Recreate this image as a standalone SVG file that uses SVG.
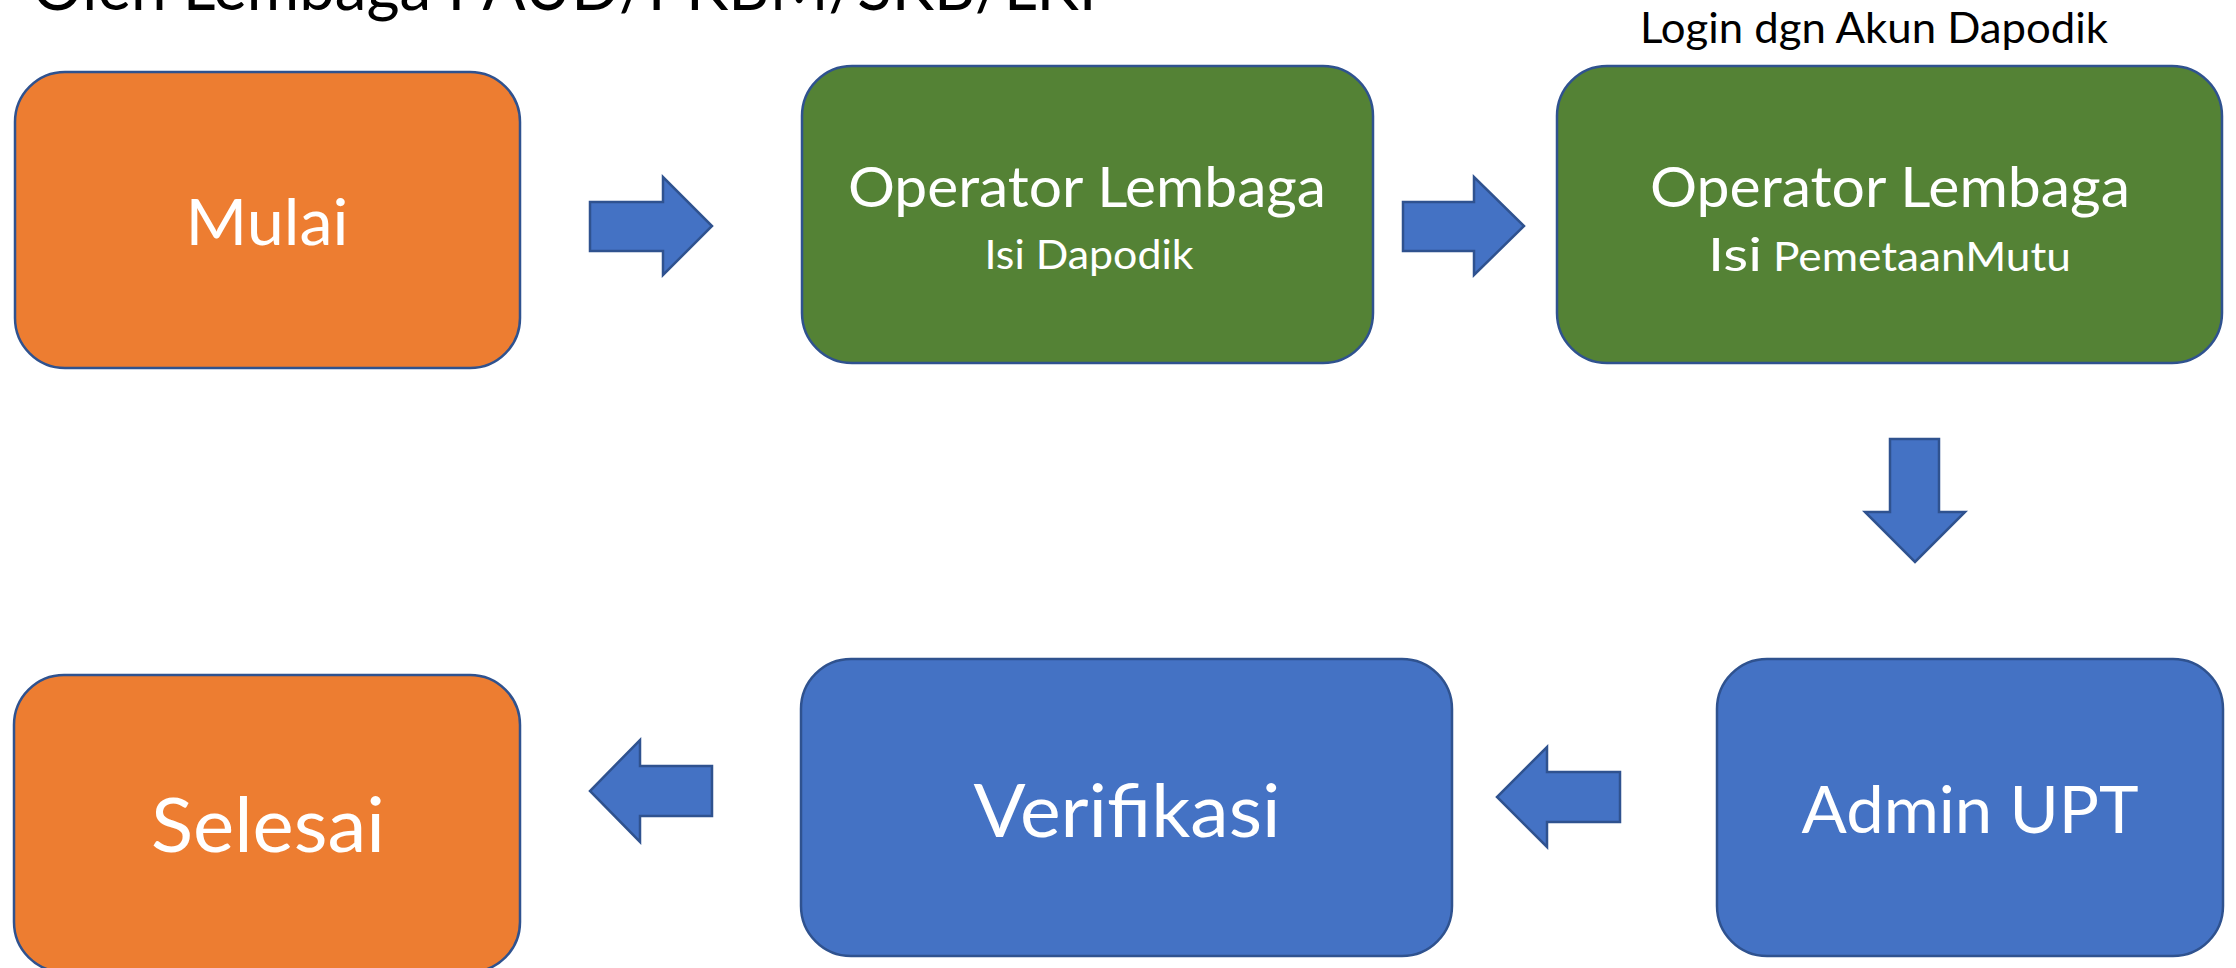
<svg xmlns="http://www.w3.org/2000/svg" width="2236" height="968" viewBox="0 0 2236 968">
<style>
.box{stroke:#2F528F;stroke-width:2.5}
.orange{fill:#ED7D31}
.green{fill:#548235}
.blue{fill:#4472C4}
.arrow{fill:#4472C4;stroke:#2F528F;stroke-width:2.5;stroke-linejoin:miter}
text{font-family:Lato,"Open Sans","Liberation Sans",sans-serif}
.w{fill:#FFFFFF;text-anchor:middle}
.k{fill:#000000}
</style>
<rect width="2236" height="968" fill="#FFFFFF"/>
<text class="k" x="32" y="10" font-size="65" textLength="1085" lengthAdjust="spacingAndGlyphs">Oleh Lembaga PAUD/PKBM/SKB/LKP</text>
<text class="k" x="1874" y="43" font-size="43" text-anchor="middle" textLength="468" lengthAdjust="spacingAndGlyphs">Login dgn Akun Dapodik</text>
<g id="mulai">
<rect class="box orange" x="15" y="72" width="505" height="296" rx="50" ry="50"/>
<text class="w" x="267" y="245" font-size="63" textLength="163" lengthAdjust="spacingAndGlyphs">Mulai</text>
</g>
<g id="operator1">
<rect class="box green" x="802" y="66" width="571" height="297" rx="50" ry="50"/>
<text class="w" x="1087" y="207" font-size="56" textLength="478" lengthAdjust="spacingAndGlyphs">Operator Lembaga</text>
<text class="w" x="1089" y="269" font-size="41" textLength="209" lengthAdjust="spacingAndGlyphs">Isi Dapodik</text>
</g>
<g id="operator2">
<rect class="box green" x="1557" y="66" width="665" height="297" rx="50" ry="50"/>
<text class="w" x="1890" y="207" font-size="56" textLength="480" lengthAdjust="spacingAndGlyphs">Operator Lembaga</text>
<text fill="#FFFFFF" y="271"><tspan x="1708" font-size="47" textLength="54" lengthAdjust="spacingAndGlyphs">Isi</tspan> <tspan x="1773" font-size="41" textLength="298" lengthAdjust="spacingAndGlyphs">PemetaanMutu</tspan></text>
</g>
<g id="admin">
<rect class="box blue" x="1717" y="659" width="506" height="297" rx="50" ry="50"/>
<text class="w" x="1970" y="833" font-size="66" textLength="337" lengthAdjust="spacingAndGlyphs">Admin UPT</text>
</g>
<g id="verifikasi">
<rect class="box blue" x="801" y="659" width="651" height="297" rx="50" ry="50"/>
<text class="w" x="1127" y="837" font-size="74" textLength="307" lengthAdjust="spacingAndGlyphs">Verifikasi</text>
</g>
<g id="selesai">
<rect class="box orange" x="14" y="675" width="506" height="297" rx="50" ry="50"/>
<text class="w" x="268" y="852" font-size="75" textLength="234" lengthAdjust="spacingAndGlyphs">Selesai</text>
</g>
<g id="connectors">
<polygon class="arrow" points="590,202 663,202 663,177 712,226 663,275 663,251 590,251"/>
<polygon class="arrow" points="1403,202 1474,202 1474,177 1524,226 1474,275 1474,251 1403,251"/>
<polygon class="arrow" points="1890,439 1939,439 1939,512 1965,512 1915,562 1865,512 1890,512"/>
<polygon class="arrow" points="1620,772 1547,772 1547,747 1497,797 1547,847 1547,822 1620,822"/>
<polygon class="arrow" points="712,766 640,766 640,740 590,791 640,842 640,816 712,816"/>
</g>
</svg>
